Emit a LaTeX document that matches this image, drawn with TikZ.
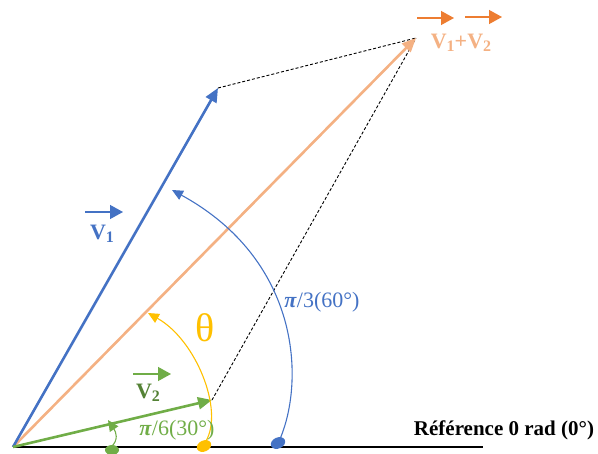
\documentclass[tikz,border=0pt]{standalone}
\usepackage{fontspec}
\setmainfont{Liberation Serif}
\usetikzlibrary{arrows.meta,shapes.geometric}
\definecolor{cblue}{HTML}{4472C4}
\definecolor{corange}{HTML}{ED7D31}
\definecolor{csalmon}{HTML}{F4B183}
\definecolor{cgreen}{HTML}{70AD47}
\definecolor{cdgreen}{HTML}{548235}
\definecolor{cyellow}{HTML}{FFC000}
\newcommand{\mysub}[1]{\raisebox{-3.5pt}{\fontsize{16}{16}\selectfont #1}}
\tikzset{
  vec/.style={line width=2.6pt, -{Triangle[length=14pt,width=12pt]}},
  arcarrow/.style={line width=1.1pt, -{Triangle[length=11pt,width=10pt]}},
  dashline/.style={black, line width=0.9pt, dash pattern=on 3pt off 2pt},
  labelarrow/.style={line width=1.3pt, -{Triangle[length=13pt,width=14pt]}},
  lbl/.style={inner sep=0pt, font=\bfseries\fontsize{22}{22}\selectfont},
}
\begin{document}
\begin{tikzpicture}[x=1pt,y=-1pt]
\useasboundingbox (0,0) rectangle (598,454);
\coordinate (O) at (13,447);
\coordinate (R) at (483,447);
\coordinate (A) at (218,88);
\coordinate (S) at (416,38);
\coordinate (B) at (212,400);
% reference line
\draw[black, line width=1.8pt] (O) -- (R);
% dashed parallelogram sides
\draw[dashline] (A) -- (S);
\draw[dashline] (B) -- (S);
% vectors
\draw[vec, csalmon] (O) -- (S);
\draw[vec, cblue] (O) -- (A);
\draw[vec, cgreen] (O) -- (B);
% dots
\coordinate (d1) at (278,443);
\coordinate (d2) at (204,446);
\coordinate (d3) at (112,450);
\fill[cblue, rotate around={25:(d1)}] (d1) ellipse [x radius=7.5pt, y radius=5.5pt];
\fill[cyellow, rotate around={25:(d2)}] (d2) ellipse [x radius=7.5pt, y radius=5.5pt];
\fill[cgreen] (d3) ellipse [x radius=7pt, y radius=5pt];
% arcs
\coordinate (a1) at (172,190);
\coordinate (a2) at (148,313);
\coordinate (a3) at (108,420);
\coordinate (s1) at (280,439);
\coordinate (s2) at (206,441);
\coordinate (s3) at (111,447);
\draw[arcarrow, cblue] (s1) .. controls (305,380) and (300,260) .. (a1);
\draw[arcarrow, cyellow] (s2) .. controls (224,410) and (196,340) .. (a2);
\draw[arcarrow, cgreen] (s3) .. controls (119,440) and (116,432) .. (a3);
% labels
\node[lbl, text=csalmon] (ls) at (461,43) {V\mysub{1}+V\mysub{2}};
\coordinate (o1s) at (417,18); \coordinate (o1e) at (454,18);
\coordinate (o2s) at (465,17); \coordinate (o2e) at (502,17);
\draw[labelarrow, corange] (o1s) -- (o1e);
\draw[labelarrow, corange] (o2s) -- (o2e);
\node[lbl, text=cblue] (l1) at (102,234) {V\mysub{1}};
\coordinate (b1s) at (85,212); \coordinate (b1e) at (123,212);
\draw[labelarrow, cblue] (b1s) -- (b1e);
\node[lbl, text=cdgreen] (l2) at (148,393) {V\mysub{2}};
\coordinate (g1s) at (133,374); \coordinate (g1e) at (171,374);
\draw[labelarrow, cgreen] (g1s) -- (g1e);
\node[inner sep=0pt, text=cyellow, font=\fontsize{40}{40}\selectfont] (th) at (205,328) {θ};
\node[inner sep=0pt, text=cblue, font=\fontsize{22}{22}\selectfont] (p3) at (322,302) {\textbf{\textit{π}}/3(60°)};
\node[inner sep=0pt, text=cgreen, font=\fontsize{22}{22}\selectfont] (p6) at (177,430) {\textbf{\textit{π}}/6(30°)};
\node[inner sep=0pt, text=black, font=\bfseries\fontsize{21}{21}\selectfont] (ref) at (504,430) {Référence 0 rad (0°)};
\end{tikzpicture}
\end{document}
